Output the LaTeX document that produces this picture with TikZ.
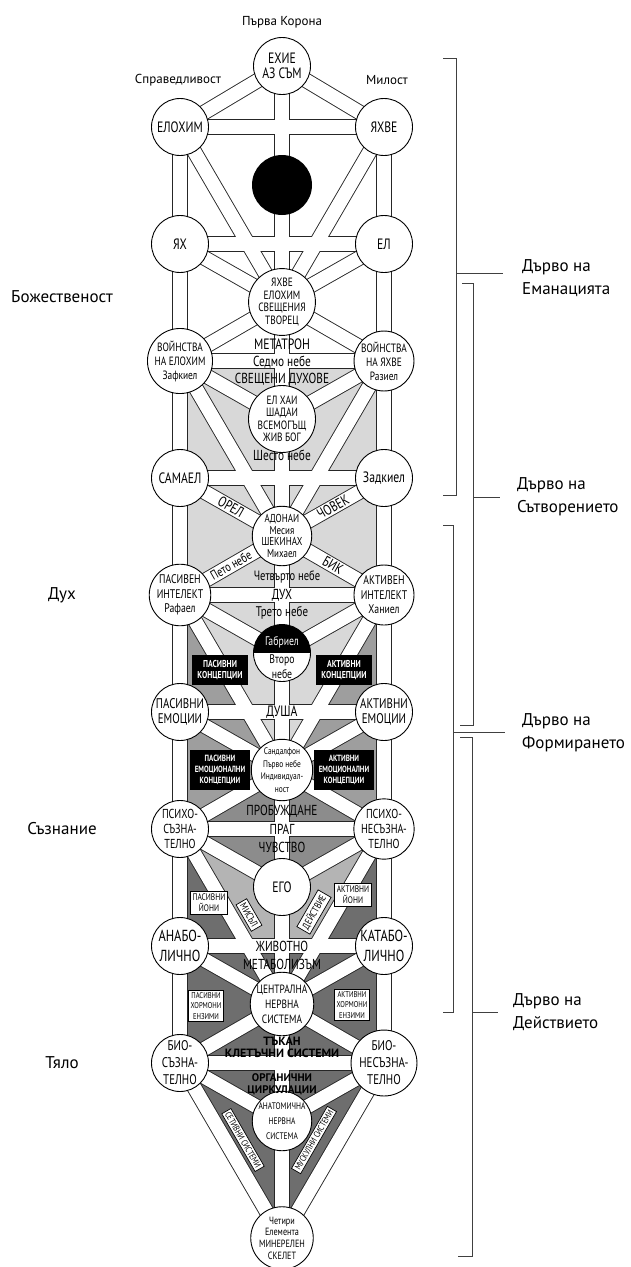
\documentclass[tikz,border=0pt]{standalone}
\usepackage{fontspec}
\setmainfont{PT Sans}
\newfontfamily\cf[FakeStretch=0.78]{PT Sans}
\newfontfamily\lab{PT Sans}
\usetikzlibrary{calc}
\pgfdeclarelayer{bg}
\pgfdeclarelayer{mid}
\pgfsetlayers{bg,mid,main}
\newcommand\fs[2]{\cf\fontsize{#1}{#2}\selectfont}
\definecolor{gA}{HTML}{D8D8D8}
\definecolor{gB}{HTML}{9E9E9E}
\definecolor{gC}{HTML}{6E6E6E}
\definecolor{gD}{HTML}{8C8C8C}
\definecolor{gE}{HTML}{B4B4B4}
\tikzset{
  sef/.style={circle, draw=black, line width=0.9pt, fill=white, minimum size=57pt, inner sep=0pt, align=center, font=\fs{12}{13}},
  bandout/.style={line width=15.5pt, draw=black!85},
  bandin/.style={line width=13.7pt, draw=white},
  blk/.style={fill=black, text=white, inner sep=1pt, align=center, font=\fs{10}{11.5}\bfseries},
  wbox/.style={fill=white, draw=black, line width=0.7pt, inner sep=2.5pt, align=center, font=\fs{9.5}{11}},
  btxt/.style={font=\fs{14.5}{15}, inner sep=0pt},
  sidelab/.style={font=\lab\fontsize{17}{23}\selectfont, align=left, anchor=west, inner sep=0pt},
  leftlab/.style={font=\lab\fontsize{17}{20}\selectfont, inner sep=0pt},
  toplab/.style={font=\lab\fontsize{13}{15}\selectfont, inner sep=0pt},
  br/.style={draw=black!75, line width=0.9pt},
}
\def\bandlist{c0/c10,l0/l8,r0/r8,l0/r0,l1/r1,l2/r2,l3/r3,l4/r4,l5/r5,l6/r6,l7/r7,l8/r8,c0/l0,c0/r0,c2/l2,c2/r2,c4/l4,c4/r4,c6/l6,c6/r6,c8/l8,c8/r8,l1/c2,r1/c2,l2/c3,r2/c3,l3/c4,r3/c4,l4/c5,r4/c5,l5/c6,r5/c6,l6/c7,r6/c7,l7/c8,r7/c8,l8/c9,r8/c9,l0/c2,r0/c2,l2/c4,r2/c4,l4/c6,r4/c6,l6/c8,r6/c8,l8/c10,r8/c10}
\begin{document}
\begin{tikzpicture}[x=1pt,y=-1pt]
\useasboundingbox (0,0) rectangle (631,1267);
% ---------- circles ----------
\node[sef, font=\fs{15}{15}] (c0) at (282,66) {ЕХИЕ\\АЗ СЪМ};
\node[circle, fill=black, minimum size=60pt, inner sep=0pt] (c1) at (282,185) {};
\node[sef, font=\fs{12}{12.5}] (c2) at (282,302) {ЯХВЕ\\ЕЛОХИМ\\СВЕЩЕНИЯ\\ТВОРЕЦ};
\node[sef, font=\fs{12}{12.5}] (c3) at (282,419) {ЕЛ ХАИ\\ШАДАИ\\ВСЕМОГЪЩ\\ЖИВ БОГ};
\node[sef, font=\fs{11.5}{11.7}] (c4) at (282,536) {АДОНАИ\\Месия\\ШЕКИНАХ\\Михаел};
\node[sef, path picture={\fill[black] (path picture bounding box.north west) rectangle (path picture bounding box.east);}] (c5) at (282,653) {};
\node[sef, font=\fs{9.5}{12.5}] (c6) at (282,770) {Сандалфон\\Първо небе\\Индивидуал-\\ност};
\node[sef, font=\fs{15}{15}] (c7) at (282,887) {ЕГО};
\node[sef, font=\fs{12}{15}] (c8) at (282,1004) {ЦЕНТРАЛНА\\НЕРВНА\\СИСТЕМА};
\node[sef, font=\fs{9.5}{15}] (c9) at (282,1121) {АНАТОМИЧНА\\НЕРВНА\\СИСТЕМА};
\node[sef, font=\fs{10.5}{11.7}] (c10) at (282,1238) {Четири\\Елемента\\МИНЕРЕЛЕН\\СКЕЛЕТ};
\node[sef, font=\fs{15}{15}] (l0) at (180,127) {ЕЛОХИМ};
\node[sef, font=\fs{15}{15}] (r0) at (384,127) {ЯХВЕ};
\node[sef, font=\fs{15}{15}] (l1) at (180,244) {ЯХ};
\node[sef, font=\fs{15}{15}] (r1) at (384,244) {ЕЛ};
\node[sef, font=\fs{12}{14}] (l2) at (180,361) {ВОЙНСТВА\\НА ЕЛОХИМ\\Зафкиел};
\node[sef, font=\fs{12}{14}] (r2) at (384,361) {ВОЙНСТВА\\НА ЯХВЕ\\Разиел};
\node[sef, font=\fs{15}{15}] (l3) at (180,478) {САМАЕЛ};
\node[sef, font=\fs{15}{15}] (r3) at (384,478) {Задкиел};
\node[sef, font=\fs{12.5}{14.5}] (l4) at (180,595) {ПАСИВЕН\\ИНТЕЛЕКТ\\Рафаел};
\node[sef, font=\fs{12.5}{14.5}] (r4) at (384,595) {АКТИВЕН\\ИНТЕЛЕКТ\\Ханиел};
\node[sef, font=\fs{14}{15}] (l5) at (180,712) {ПАСИВНИ\\ЕМОЦИИ};
\node[sef, font=\fs{14}{15}] (r5) at (384,712) {АКТИВНИ\\ЕМОЦИИ};
\node[sef, font=\fs{13}{15}] (l6) at (180,829) {ПСИХО-\\СЪЗНА-\\ТЕЛНО};
\node[sef, font=\fs{13}{15}] (r6) at (384,829) {ПСИХО-\\НЕСЪЗНА-\\ТЕЛНО};
\node[sef, font=\fs{16}{20}] (l7) at (180,946) {АНАБО-\\ЛИЧНО};
\node[sef, font=\fs{16}{20}] (r7) at (384,946) {КАТАБО-\\ЛИЧНО};
\node[sef, font=\fs{14}{17}] (l8) at (180,1063) {БИО-\\СЪЗНА-\\ТЕЛНО};
\node[sef, font=\fs{14}{17}] (r8) at (384,1063) {БИО-\\НЕСЪЗНА-\\ТЕЛНО};
\node[font=\fs{12.5}{13}, text=white, inner sep=0pt] (gab) at ($(c5.center)+(0,-11)$) {Габриел};
\node[font=\fs{12.5}{13}, inner sep=0pt] (vto) at ($(c5.center)+(0,7)$) {Второ};
\node[font=\fs{12.5}{13}, inner sep=0pt] (neb) at ($(c5.center)+(0,21)$) {небе};
% ---------- shaded faces ----------
\begin{pgfonlayer}{bg}
\fill[white] (0,0) rectangle (631,1267);
\fill[gC] (c6.center) -- (l6.center) -- (l8.center) -- (c10.center) -- (r8.center) -- (r6.center) -- cycle;
\fill[gB] (c4.center) -- (l4.center) -- (l6.center) -- (c6.center) -- (r6.center) -- (r4.center) -- cycle;
\fill[gA] (l2.center) -- (l4.center) -- (c6.center) -- (r4.center) -- (r2.center) -- cycle;
\fill[gD] (c6.center) -- (l6.center) -- (c7.center) -- (r6.center) -- cycle;
\fill[gE] (l6.center) -- (c7.center) -- ($(c7.center)!0.5!(c8.center)$) -- ($(l6.center)!0.669!(c8.center)$) -- cycle;
\fill[gE] (r6.center) -- (c7.center) -- ($(c7.center)!0.5!(c8.center)$) -- ($(r6.center)!0.669!(c8.center)$) -- cycle;
\end{pgfonlayer}
% ---------- paths (bands) ----------
\begin{pgfonlayer}{mid}
\foreach \a/\b in \bandlist {\draw[bandout] (\a.center) -- (\b.center);}
\foreach \a/\b in \bandlist {\draw[bandin] (\a.center) -- (\b.center);}
\end{pgfonlayer}
% ---------- texts on the paths ----------
\node[btxt, font=\fs{15}{15}] (t1) at (282,344) {МЕТАТРОН};
\node[btxt] (t2) at (282,362) {Седмо небе};
\node[btxt] (t3) at (282,379) {СВЕЩЕНИ ДУХОВЕ};
\node[btxt] (t4) at (282,455) {Шесто небе};
\node[btxt, rotate=-29.6] (t5) at ($(l3.center)!0.5!(c4.center)$) {ОРЕЛ};
\node[btxt, rotate=29.6] (t6) at ($(r3.center)!0.5!(c4.center)$) {ЧОВЕК};
\node[btxt, rotate=29.6, font=\fs{13}{14}] (t7) at ($(l4.center)!0.5!(c4.center)$) {Пето небе};
\node[btxt, rotate=-29.6] (t8) at ($(r4.center)!0.5!(c4.center)$) {БИК};
\node[btxt, font=\fs{13.5}{14}] (t9) at (287,577) {Четвърто небе};
\node[btxt] (t10) at (282,595) {ДУХ};
\node[btxt, font=\fs{14}{14}] (t11) at (282,613) {Трето небе};
\node[btxt, font=\fs{15}{15}] (t12) at (282,712) {ДУША};
\node[btxt] (t13) at (282,811) {ПРОБУЖДАНЕ};
\node[btxt] (t14) at (282,829) {ПРАГ};
\node[btxt] (t15) at (282,847) {ЧУВСТВО};
\node[btxt] (t16) at (282,946) {ЖИВОТНО};
\node[btxt] (t17) at (282,964) {МЕТАБОЛИЗЪМ};
\node[font=\lab\bfseries\fontsize{12}{12}\selectfont, inner sep=0pt] (t18) at (282,1041) {ТЪКАН};
\node[font=\lab\bfseries\fontsize{12}{12}\selectfont, inner sep=0pt] (t19) at (282,1053) {КЛЕТЪЧНИ СИСТЕМИ};
\node[font=\lab\bfseries\fontsize{11}{12}\selectfont, inner sep=0pt] (t20) at (282,1078) {ОРГАНИЧНИ};
\node[font=\lab\bfseries\fontsize{11}{12}\selectfont, inner sep=0pt] (t21) at (282,1090) {ЦИРКУЛАЦИИ};
% ---------- boxes ----------
\node[blk, minimum width=56pt, minimum height=30pt] (b1) at (220,670) {ПАСИВНИ\\КОНЦЕПЦИИ};
\node[blk, minimum width=56pt, minimum height=30pt] (b2) at (344,670) {АКТИВНИ\\КОНЦЕПЦИИ};
\node[blk, minimum width=60pt, minimum height=40pt, font=\fs{9}{11}\bfseries] (b3) at (220,770) {ПАСИВНИ\\ЕМОЦИОНАЛНИ\\КОНЦЕПЦИИ};
\node[blk, minimum width=60pt, minimum height=40pt, font=\fs{9}{11}\bfseries] (b4) at (344,770) {АКТИВНИ\\ЕМОЦИОНАЛНИ\\КОНЦЕПЦИИ};
\node[wbox] (w1) at (209,903) {ПАСИВНИ\\ЙОНИ};
\node[wbox] (w2) at (353,895) {АКТИВНИ\\ЙОНИ};
\node[wbox, rotate=-60, font=\fs{10}{11}] (w3) at (249,915) {МИСЪЛ};
\node[wbox, rotate=60, font=\fs{10}{11}] (w4) at (314,912) {ДЕЙСТВИЕ};
\node[wbox, font=\fs{8.5}{10.5}, inner sep=2pt] (w5) at (206,1006) {ПАСИВНИ\\ХОРМОНИ\\ЕНЗИМИ};
\node[wbox, font=\fs{8.5}{10.5}, inner sep=2pt] (w6) at (352,1005) {АКТИВНИ\\ХОРМОНИ\\ЕНЗИМИ};
\node[wbox, rotate=-60, font=\fs{9}{10}, inner sep=2pt] (w7) at (243,1140) {СЕТИВНИ СИСТЕМИ};
\node[wbox, rotate=60, font=\fs{9}{10}, inner sep=2pt] (w8) at (314,1140) {МУСКУЛНИ СИСТЕМИ};
% ---------- outer labels ----------
\node[toplab] (k1) at (282,22) {Първа Корона};
\node[toplab] (k2) at (178,80) {Справедливост};
\node[toplab] (k3) at (387,80) {Милост};
\node[leftlab] (s1) at (62,297) {Божественост};
\node[leftlab] (s2) at (62,595) {Дух};
\node[leftlab] (s3) at (62,829) {Съзнание};
\node[leftlab] (s4) at (62,1063) {Тяло};
\node[sidelab] (d1) at (522,278) {Дърво на\\Еманацията};
\node[sidelab] (d2) at (517,497) {Дърво на\\Сътворението};
\node[sidelab] (d3) at (522,733) {Дърво на\\Формирането};
\node[sidelab] (d4) at (513,1012) {Дърво на\\Действието};
% ---------- brackets ----------
\draw[br] (443,58) -- (456,58) -- (456,495) -- (443,495);
\draw[br] (456,273) -- (503,273);
\draw[br] (462,283) -- (473,283) -- (473,725) -- (460,725);
\draw[br] (473,497) -- (500,497);
\draw[br] (443,525) -- (453,525) -- (453,1012) -- (443,1012);
\draw[br] (453,732) -- (505,732);
\draw[br] (460,737) -- (472,737) -- (472,1256) -- (458,1256);
\draw[br] (472,1012) -- (498,1012);
\end{tikzpicture}
\end{document}
